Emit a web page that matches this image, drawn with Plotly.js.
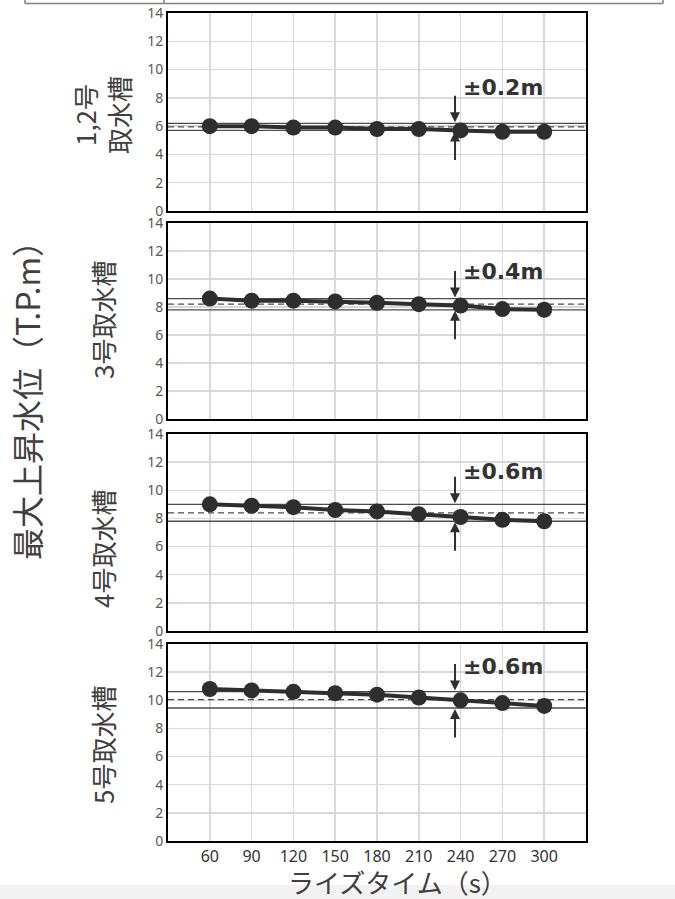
<!DOCTYPE html>
<html>
<head>
<meta charset="utf-8">
<script src="https://cdn.plot.ly/plotly-3.0.1.min.js"></script>
<style>
  html, body { margin: 0; padding: 0; background: #ffffff; }
  #chart { width: 675px; height: 899px; }
</style>
</head>
<body>
<div id="chart"></div>
<script>
// ---- data ----
const riseTimes = [60, 90, 120, 150, 180, 210, 240, 270, 300];
const tank12 = [6.0, 6.0, 5.9, 5.9, 5.8, 5.8, 5.7, 5.6, 5.6];
const tank3  = [8.6, 8.45, 8.45, 8.4, 8.3, 8.2, 8.1, 7.85, 7.8];
const tank4  = [9.0, 8.9, 8.8, 8.6, 8.5, 8.3, 8.1, 7.9, 7.8];
const tank5  = [10.8, 10.7, 10.6, 10.5, 10.4, 10.2, 10.0, 9.8, 9.6];
const centerLevels = [5.95, 8.2, 8.4, 10.05];
const upperLevels  = [6.2, 8.6, 9.0, 10.62];
const lowerLevels  = [5.7, 7.8, 7.8, 9.45];
const rangeLabels  = ['±0.2m', '±0.4m', '±0.6m', '±0.6m'];
const panelLabels  = ['1,2号<br>取水槽', '3号取水槽', '4号取水槽', '5号取水槽'];
const yTickVals = [0, 2, 4, 6, 8, 10, 12, 14];
const xTickVals = [60, 90, 120, 150, 180, 210, 240, 270, 300];
const xSpan = [30, 330];
const yTitle = '最大上昇水位（T.P.m）';
const xTitle = 'ライズタイム（s）';

const series = [tank12, tank3, tank4, tank5];

// ---- layout geometry (pixels in a 675x899 page) ----
const W = 675, H = 899;
const plotLeft = 168, plotRight = 586;
const panelTops = [13, 223, 434, 644];
const panelBottoms = [211, 419, 631, 841];
const labelY = [8.74, 10.54, 11.3, 12.4];       // positions of the ± labels (data units)
const panelLabelY = [115, 320, 549, 745];        // pixel centres of panel labels

const CJK = '"Noto Sans CJK JP", "Noto Sans", sans-serif';
const dark = '#2e2e2e';

const traces = [];
const layout = {
  width: W, height: H,
  margin: {l: 0, r: 0, t: 0, b: 0},
  paper_bgcolor: '#ffffff',
  plot_bgcolor: '#ffffff',
  showlegend: false,
  shapes: [],
  annotations: []
};

for (let i = 0; i < 4; i++) {
  const xa = i === 0 ? 'x' : 'x' + (i + 1);
  const ya = i === 0 ? 'y' : 'y' + (i + 1);
  const xKey = i === 0 ? 'xaxis' : 'xaxis' + (i + 1);
  const yKey = i === 0 ? 'yaxis' : 'yaxis' + (i + 1);
  const isBottom = i === 3;

  layout[xKey] = {
    domain: [plotLeft / W, plotRight / W],
    anchor: ya,
    range: xSpan,
    tickvals: xTickVals,
    ticktext: xTickVals.map(String),
    showticklabels: isBottom,
    tickfont: {family: '"Noto Sans", sans-serif', size: 16, color: '#333333'},
    ticks: '',
    showgrid: true,
    gridcolor: '#d9d9d9',
    gridwidth: 1.5,
    zeroline: false,
    showline: true,
    linecolor: '#000000',
    linewidth: 2,
    mirror: true,
    fixedrange: true
  };
  layout[yKey] = {
    domain: [1 - panelBottoms[i] / H, 1 - panelTops[i] / H],
    anchor: xa,
    range: [0, 14],
    tickvals: yTickVals,
    ticktext: yTickVals.map(String),
    tickfont: {family: '"Noto Sans", sans-serif', size: 14, color: '#595959'},
    ticks: '',
    showgrid: true,
    gridcolor: '#d9d9d9',
    gridwidth: 1.5,
    zeroline: false,
    showline: true,
    linecolor: '#000000',
    linewidth: 2,
    mirror: true,
    fixedrange: true
  };

  // threshold lines (drawn first so the data line sits above them)
  [upperLevels[i], lowerLevels[i]].forEach(function (lv) {
    traces.push({
      type: 'scatter', mode: 'lines', x: xSpan, y: [lv, lv],
      xaxis: xa, yaxis: ya,
      line: {color: '#4d4d4d', width: 1.3}, hoverinfo: 'skip'
    });
  });
  traces.push({
    type: 'scatter', mode: 'lines', x: xSpan, y: [centerLevels[i], centerLevels[i]],
    xaxis: xa, yaxis: ya,
    line: {color: '#4d4d4d', width: 1.3, dash: '6px,4px'}, hoverinfo: 'skip'
  });

  // data series
  traces.push({
    type: 'scatter', mode: 'lines+markers',
    x: riseTimes, y: series[i],
    xaxis: xa, yaxis: ya,
    line: {color: dark, width: 4},
    marker: {color: dark, size: 16},
    hoverinfo: 'skip'
  });

  // range label
  layout.annotations.push({
    xref: xa, yref: ya, x: 240, y: labelY[i],
    xanchor: 'left', yanchor: 'middle',
    text: '<b>' + rangeLabels[i] + '</b>',
    showarrow: false,
    font: {family: '"DejaVu Sans", sans-serif', size: 22, color: '#333333'}
  });
  // down arrow onto upper line
  layout.annotations.push({
    xref: xa, yref: ya, x: 236, y: upperLevels[i],
    ax: 0, ay: -29, text: '', showarrow: true,
    arrowhead: 2, arrowsize: 1, arrowwidth: 2, arrowcolor: dark, standoff: 1
  });
  // up arrow onto lower line
  layout.annotations.push({
    xref: xa, yref: ya, x: 236, y: lowerLevels[i],
    ax: 0, ay: 31, text: '', showarrow: true,
    arrowhead: 2, arrowsize: 1, arrowwidth: 2, arrowcolor: dark, standoff: 1
  });
  // panel label
  layout.annotations.push({
    xref: 'paper', yref: 'paper', x: 102 / W, y: 1 - panelLabelY[i] / H,
    xanchor: 'center', yanchor: 'middle',
    text: panelLabels[i], textangle: -90, showarrow: false,
    font: {family: CJK, size: 26, color: '#404040'}
  });
}

// overall y title
layout.annotations.push({
  xref: 'paper', yref: 'paper', x: 26 / W, y: 1 - 393 / H,
  xanchor: 'center', yanchor: 'middle',
  text: yTitle, textangle: -90, showarrow: false,
  font: {family: CJK, size: 32, color: '#404040'}
});
// x title
layout.annotations.push({
  xref: 'paper', yref: 'paper', x: 397 / W, y: 1 - 881 / H,
  xanchor: 'center', yanchor: 'middle',
  text: xTitle, showarrow: false,
  font: {family: CJK, size: 26, color: '#404040'}
});

// decorative frame remnants of the surrounding document
const topEdge = 1 - 3.5 / H;
const frameLine = {color: '#7f7f7f', width: 1.5};
layout.shapes.push({type: 'line', xref: 'paper', yref: 'paper', x0: 25 / W, x1: 663 / W, y0: topEdge, y1: topEdge, line: frameLine});
layout.shapes.push({type: 'line', xref: 'paper', yref: 'paper', x0: 25 / W, x1: 25 / W, y0: topEdge, y1: 1, line: frameLine});
layout.shapes.push({type: 'line', xref: 'paper', yref: 'paper', x0: 164 / W, x1: 164 / W, y0: topEdge, y1: 1, line: frameLine});
layout.shapes.push({type: 'line', xref: 'paper', yref: 'paper', x0: 663 / W, x1: 663 / W, y0: topEdge, y1: 1, line: frameLine});
layout.shapes.push({type: 'rect', xref: 'paper', yref: 'paper', x0: 0, x1: 1, y0: 0, y1: 14 / H,
  fillcolor: '#f2f2f2', line: {width: 0}, layer: 'below'});

Plotly.newPlot('chart', traces, layout, {staticPlot: true, displayModeBar: false});
</script>
</body>
</html>
